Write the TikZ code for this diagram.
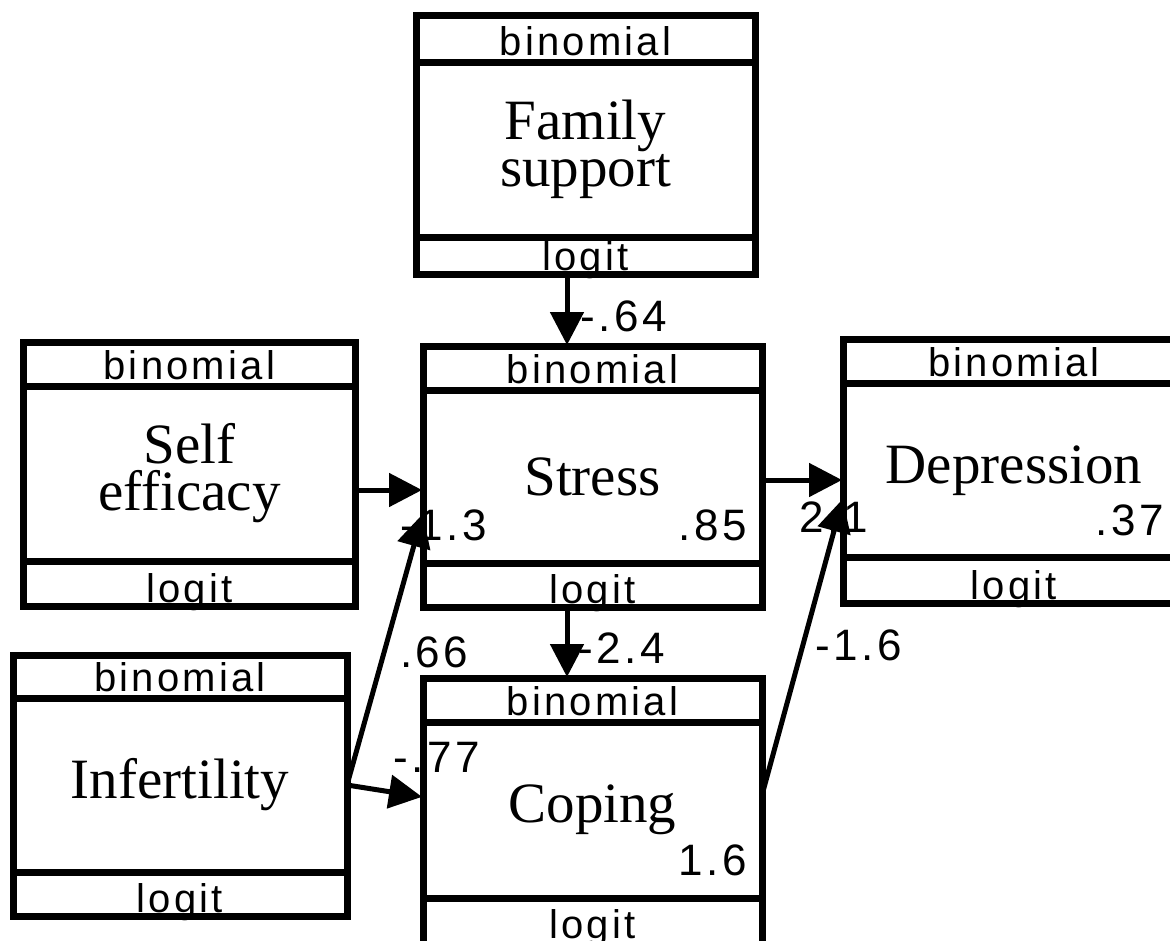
\documentclass[tikz,border=0pt]{standalone}
\usepackage{fontspec}
\setmainfont{Liberation Serif}
\newfontfamily\labfont{Liberation Sans}[LetterSpace=8]
\usetikzlibrary{arrows.meta,calc}
\tikzset{
  boxline/.style={draw=black, line width=7pt, rectangle, inner sep=0pt, outer sep=0pt},
  boxtxt/.style={font=\labfont\fontsize{40}{40}\selectfont, inner sep=0pt, anchor=base},
  numtxt/.style={font=\labfont\fontsize{44}{44}\selectfont, inner sep=0pt},
  nametxt/.style={font=\fontsize{57}{47}\selectfont, align=center, inner sep=0pt},
  arr/.style={line width=5pt, -{Triangle[length=33pt,width=33pt]}, shorten >=1pt},
}
\newcommand\pbox[9]{%
  \node[boxtxt] at ({(#2+#4)/2}, {#6-7}) {binomial};
  \node[nametxt] at ({(#2+#4)/2}, {(#6+#7)/2}) {#8};
  \node[boxtxt] at ({(#2+#4)/2}, {#9}) {logit};
  \node[boxline, minimum width={#4-#2}, minimum height={#5-#3}, anchor=north west] (#1) at (#2,#3) {};
  \draw[boxline] (#2,#6) -- (#4,#6) (#2,#7) -- (#4,#7);
}
\begin{document}
\begin{tikzpicture}[x=1pt,y=-1pt]
\useasboundingbox (0,0) rectangle (1170,940);
\clip (0,0) rectangle (1170,940);
\pbox{fam}{416}{15.5}{755}{274}{62}{237}{Family\\support}{270}
\pbox{self}{23.5}{342}{355}{606}{386}{561}{Self\\efficacy}{602}
\pbox{stress}{423}{346}{762}{607}{390}{563}{Stress}{603}
\pbox{dep}{843}{339.5}{1185}{603}{383}{557.5}{Depression}{599}
\pbox{inf}{13}{655}{347}{916}{698}{872}{Infertility}{912}
\pbox{cop}{423}{678}{762}{948}{722}{898}{Coping}{938}
% numbers
\node[numtxt, anchor=east] (n13) at (487,525) {-1.3};
\node[numtxt, anchor=east] (n85) at (747,525) {.85};
\node[numtxt, anchor=east] (n21) at (868,517) {2.1};
\node[numtxt, anchor=east] (n37) at (1164,520) {.37};
\node[numtxt, anchor=east] (n16b) at (747,860) {1.6};
\node[numtxt, anchor=west] (n64) at (580,316) {-.64};
\node[numtxt, anchor=west] (n24) at (578,648) {-2.4};
\node[numtxt, anchor=west] (n16) at (815,645) {-1.6};
\node[numtxt, anchor=west] (n66) at (400,652) {.66};
\node[numtxt, anchor=east] (n77) at (480,757) {-.77};
% arrows
\draw[arr] ([xshift=-18.5pt]fam.south) -- ([xshift=-25.5pt]stress.north);
\draw[arr] (self.east |- 0,490) -- (stress.west |- 0,490);
\draw[arr] (inf.east |- 0,785) -- ([yshift=-8pt]stress.west |- 0,505) ;
\draw[arr] (inf.east |- 0,785) -- (cop.west |- 0,797);
\draw[arr] ([xshift=-25.5pt]stress.south) -- ([xshift=-25.5pt]cop.north);
\draw[arr] (stress.east |- 0,480) -- (dep.west |- 0,480);
\draw[arr] (cop.east |- 0,795) -- (dep.west |- 0,498);
\end{tikzpicture}
\end{document}
